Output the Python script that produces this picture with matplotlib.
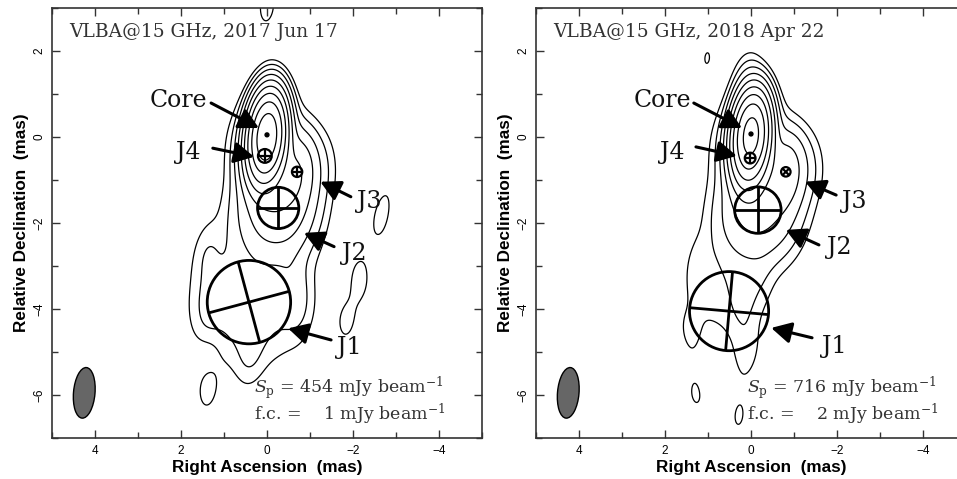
import numpy as np
import matplotlib
matplotlib.use("Agg")
import matplotlib.pyplot as plt
from matplotlib.patches import Ellipse, Circle

plt.rcParams["mathtext.fontset"] = "dejavuserif"

# ---------------- restoring beam (mas, deg) ----------------
beam_maj = 1.18
beam_min = 0.50
beam_pa = -5.0

# ---------------- epoch 2017 Jun 17 ----------------
ep1_title = "VLBA@15 GHz, 2017 Jun 17"
ep1_peak = 454
ep1_fc = 1
# model-fit components: Core, J4, J3, J2, J1
ep1_names = ["Core", "J4", "J3", "J2", "J1"]
ep1_ra = [0.00, 0.05, -0.70, -0.26, 0.42]
ep1_dec = [0.05, -0.44, -0.81, -1.65, -3.84]
ep1_flux = [400.0, 60.0, 10.0, 30.0, 25.0]
ep1_size = [0.04, 0.32, 0.24, 0.96, 1.94]
ep1_cross_rot = [0.0, 0.0, 0.0, 0.0, 15.0]
# residual extended emission and noise (ra, dec, flux mJy, maj, min, pa)
ep1_ext_ra = [0.00, 0.30, -0.60, -0.90, 1.40, -0.55, 0.40, 1.35, -0.75,
              -2.62, 0.00, -2.14, -1.88, -2.00, -2.35, 1.38, 1.35]
ep1_ext_dec = [-0.20, -1.80, -1.80, -0.70, -2.70, -3.40, -5.10, -3.95, -3.95,
               -1.95, 3.05, -3.35, -4.18, -3.75, -2.80, -5.75, -5.20]
ep1_ext_flux = [20.0, 8.0, 8.0, 8.0, 1.2, 1.5, 1.2, 1.2, 1.2,
                2.3, 1.3, 2.0, 1.6, -1.2, -0.7, 1.7, -1.0]
ep1_ext_maj = [1.0, 1.2, 1.2, 0.8, 0.1, 0.1, 0.1, 0.1, 0.1,
               1.5, 0.1, 0.3, 0.1, 0.1, 0.1, 0.4, 0.1]
ep1_ext_min = [1.0, 1.0, 1.0, 0.8, 0.1, 0.1, 0.1, 0.1, 0.1,
               0.05, 0.1, 0.1, 0.1, 0.1, 0.1, 0.1, 0.1]
ep1_ext_pa = [0.0, 0.0, 0.0, 0.0, 0.0, 0.0, 0.0, 0.0, 0.0,
              -18.0, 0.0, 0.0, 0.0, 0.0, 0.0, 0.0, 0.0]
# label positions and arrow tails / tips
ep1_lab_ra = [2.05, 1.84, -2.37, -2.03, -1.91]
ep1_lab_dec = [0.86, -0.35, -1.51, -2.70, -4.90]
ep1_tail_ra = [1.30, 1.26, -1.95, -1.56, -1.49]
ep1_tail_dec = [0.79, -0.26, -1.39, -2.55, -4.72]
ep1_tip_ra = [0.19, 0.30, -1.24, -0.86, -0.49]
ep1_tip_dec = [0.21, -0.46, -1.04, -2.23, -4.45]
ep1_note_ra = 0.30

# ---------------- epoch 2018 Apr 22 ----------------
ep2_title = "VLBA@15 GHz, 2018 Apr 22"
ep2_peak = 716
ep2_fc = 2
ep2_names = ["Core", "J4", "J3", "J2", "J1"]
ep2_ra = [0.00, 0.02, -0.81, -0.16, 0.51]
ep2_dec = [0.07, -0.49, -0.81, -1.70, -4.05]
ep2_flux = [650.0, 90.0, 15.0, 45.0, 8.0]
ep2_size = [0.04, 0.25, 0.22, 1.08, 1.84]
ep2_cross_rot = [0.0, 0.0, 45.0, 0.0, -5.0]
ep2_ext_ra = [0.00, 0.10, 0.35, -0.60, -0.95, 1.25, 0.50, 0.19, 0.10,
              -0.20, 1.02, 1.28, 0.28, 1.45]
ep2_ext_dec = [-0.20, 1.20, -1.90, -1.90, -0.75, -3.00, -3.40, -3.86, -5.00,
               -3.30, 1.84, -6.05, -6.50, -4.55]
ep2_ext_flux = [40.0, 5.0, 14.0, 14.0, 20.0, 2.0, 8.0, 2.3, 2.4,
                1.5, 2.1, 3.0, 2.15, 2.3]
ep2_ext_maj = [1.0, 0.1, 1.2, 1.2, 0.8, 0.1, 1.2, 0.5, 0.1,
               0.1, 0.1, 0.8, 0.1, 0.8]
ep2_ext_min = [1.0, 0.1, 1.0, 1.0, 0.8, 0.1, 1.2, 0.05, 0.1,
               0.1, 0.1, 0.05, 0.1, 0.05]
ep2_ext_pa = [0.0, 0.0, 0.0, 0.0, 0.0, 0.0, 0.0, 0.0, 0.0,
              0.0, 0.0, 35.0, 0.0, 35.0]
ep2_lab_ra = [2.07, 1.84, -2.40, -2.05, -1.93]
ep2_lab_dec = [0.86, -0.35, -1.50, -2.58, -4.88]
ep2_tail_ra = [1.33, 1.28, -1.98, -1.58, -1.42]
ep2_tail_dec = [0.79, -0.23, -1.35, -2.51, -4.67]
ep2_tip_ra = [0.21, 0.33, -1.26, -0.81, -0.47]
ep2_tip_dec = [0.21, -0.44, -1.04, -2.16, -4.44]
ep2_note_ra = 0.09

beam_pos = (4.25, -5.95)
xticks = [4, 2, 0, -2, -4]
yticks = [2, 0, -2, -4, -6]

SERIF = "DejaVu Serif"
SANS = "Liberation Sans"
FWHM2SIG = 1.0 / (2.0 * np.sqrt(2.0 * np.log(2.0)))


def cov(maj, mn, pa):
    t = np.deg2rad(pa)
    u = np.array([np.sin(t), np.cos(t)])
    v = np.array([np.cos(t), -np.sin(t)])
    sa, sb = maj * FWHM2SIG, mn * FWHM2SIG
    return sa ** 2 * np.outer(u, u) + sb ** 2 * np.outer(v, v)


def make_map(ra_list, dec_list, flux, maj, mn, pa, X, Y):
    """Sum of Gaussian components restored with the beam, in mJy/beam."""
    cb = cov(beam_maj, beam_min, beam_pa)
    img = np.zeros_like(X)
    for r, d, f, a, b, p in zip(ra_list, dec_list, flux, maj, mn, pa):
        ce = cb + cov(a, b, p)
        peak = f * np.sqrt(np.linalg.det(cb) / np.linalg.det(ce))
        ci = np.linalg.inv(ce)
        dx, dy = X - r, Y - d
        q = ci[0, 0] * dx * dx + 2 * ci[0, 1] * dx * dy + ci[1, 1] * dy * dy
        img += peak * np.exp(-0.5 * q)
    return img


gx = np.linspace(5.6, -5.6, 700)
gy = np.linspace(-7.6, 3.6, 700)
X, Y = np.meshgrid(gx, gy)


def fmt_tick(v):
    return "%g" % v if v >= 0 else "\u2212%g" % -v


def draw_panel(ax, ep):
    (title, peak, fc, names, ra, dec, flux, size, crot,
     e_ra, e_dec, e_flux, e_maj, e_min, e_pa,
     l_ra, l_dec, t_ra, t_dec, p_ra, p_dec, note_ra) = ep
    all_ra = list(ra) + list(e_ra)
    all_dec = list(dec) + list(e_dec)
    all_flux = list(flux) + list(e_flux)
    all_maj = list(size) + list(e_maj)
    all_min = list(size) + list(e_min)
    all_pa = [0.0] * len(ra) + list(e_pa)
    img = make_map(all_ra, all_dec, all_flux, all_maj, all_min, all_pa, X, Y)
    levels = [fc * 2 ** k for k in range(12) if fc * 2 ** k <= peak]
    ax.contour(X, Y, img, levels=levels, colors="black", linewidths=0.9)

    # model-fit components
    for i, (r, d, s, rot) in enumerate(zip(ra, dec, size, crot)):
        if i == 0:
            ax.add_patch(Circle((r, d), 0.045, color="black", zorder=4))
            continue
        rad = s / 2.0
        lw = 2.0 if rad > 0.3 else 1.6
        ax.add_patch(Circle((r, d), rad, fill=False, lw=lw, ec="black", zorder=4))
        t = np.deg2rad(rot)
        for ang in (t, t + np.pi / 2):
            c, sn = np.cos(ang), np.sin(ang)
            ax.plot([r - rad * c, r + rad * c], [d + rad * sn, d - rad * sn],
                    color="black", lw=lw, zorder=4, solid_capstyle="butt")

    # labels with arrows
    for n, lr, ld, tr, td, pr, pd in zip(names, l_ra, l_dec, t_ra, t_dec, p_ra, p_dec):
        ax.text(lr, ld, n, family=SERIF, fontsize=17, ha="center", va="center",
                color="#111111", zorder=5)
        ax.annotate("", xy=(pr, pd), xytext=(tr, td),
                    arrowprops=dict(arrowstyle="-|>,head_length=0.6,head_width=0.32",
                                    lw=2.2, color="black", shrinkA=0, shrinkB=0,
                                    mutation_scale=20), zorder=5)

    ax.text(4.6, 2.44, title, family=SERIF, fontsize=13.4, color="#333333",
            ha="left", va="center")
    ax.text(note_ra, -5.84, r"$S_{\rm p}$ = %d mJy $\rm beam^{-1}$" % peak,
            family=SERIF, fontsize=12.5, color="#333333", ha="left", va="center")
    ax.text(note_ra, -6.44, r"f.c. =    %d mJy $\rm beam^{-1}$" % fc,
            family=SERIF, fontsize=12.5, color="#333333", ha="left", va="center")

    # restoring beam
    ax.add_patch(Ellipse(beam_pos, beam_min, beam_maj, angle=-beam_pa,
                         fc="#666666", ec="black", lw=1.0, zorder=4))

    ax.set_xlim(5, -5)
    ax.set_ylim(-7, 3)
    ax.set_xticks(xticks)
    ax.set_yticks(yticks)
    ax.set_xticks(np.arange(-5, 6, 1), minor=True)
    ax.set_yticks(np.arange(-7, 4, 1), minor=True)
    ax.set_xticklabels([fmt_tick(v) for v in xticks], family=SANS, fontsize=8.5)
    ax.set_yticklabels([fmt_tick(v) for v in yticks], family=SANS, fontsize=8.5,
                       rotation=90, va="center")
    ax.tick_params(which="both", direction="in", top=True, right=True,
                   color="#333333", width=1.0)
    ax.tick_params(which="major", length=6, pad=5)
    ax.tick_params(which="minor", length=4)
    for sp in ax.spines.values():
        sp.set_linewidth(1.2)
        sp.set_color("#333333")
    ax.set_xlabel("Right Ascension  (mas)", family=SANS, fontweight="bold",
                  fontsize=12.3, labelpad=2)
    ax.set_ylabel("Relative Declination  (mas)", family=SANS, fontweight="bold",
                  fontsize=12.3, labelpad=3)


fig = plt.figure(figsize=(9.57, 4.79), dpi=100)
ax1 = fig.add_axes([52 / 957, 41 / 479, 430 / 957, 430 / 479])
ax2 = fig.add_axes([536 / 957, 41 / 479, 430 / 957, 430 / 479])

draw_panel(ax1, (ep1_title, ep1_peak, ep1_fc, ep1_names, ep1_ra, ep1_dec, ep1_flux,
                 ep1_size, ep1_cross_rot, ep1_ext_ra, ep1_ext_dec, ep1_ext_flux,
                 ep1_ext_maj, ep1_ext_min, ep1_ext_pa, ep1_lab_ra, ep1_lab_dec,
                 ep1_tail_ra, ep1_tail_dec, ep1_tip_ra, ep1_tip_dec, ep1_note_ra))
draw_panel(ax2, (ep2_title, ep2_peak, ep2_fc, ep2_names, ep2_ra, ep2_dec, ep2_flux,
                 ep2_size, ep2_cross_rot, ep2_ext_ra, ep2_ext_dec, ep2_ext_flux,
                 ep2_ext_maj, ep2_ext_min, ep2_ext_pa, ep2_lab_ra, ep2_lab_dec,
                 ep2_tail_ra, ep2_tail_dec, ep2_tip_ra, ep2_tip_dec, ep2_note_ra))

fig.savefig("out.png", dpi=100)
